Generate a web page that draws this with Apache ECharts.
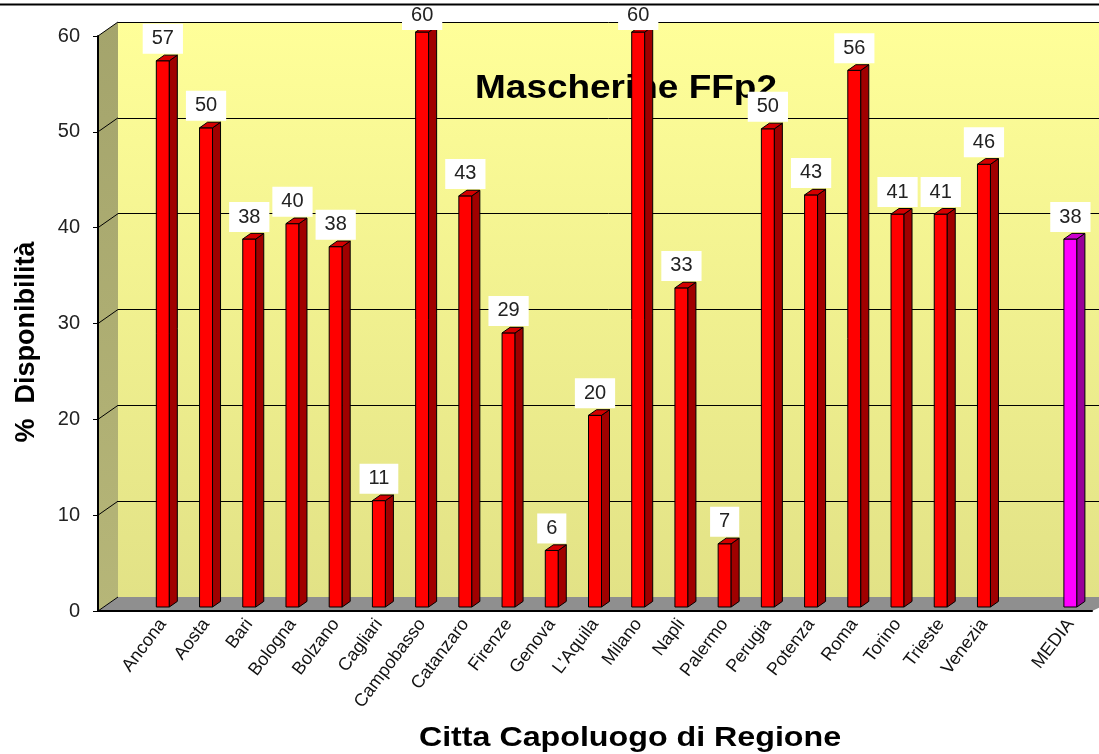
<!DOCTYPE html>
<html>
<head>
<meta charset="utf-8">
<script src="https://cdn.jsdelivr.net/npm/echarts@6/dist/echarts.min.js"></script>
<style>
  html, body { margin: 0; padding: 0; background: #fff; }
  #chart { width: 1099px; height: 754px; }
</style>
</head>
<body>
<div id="chart"></div>
<script>
// Mascherine FFp2 - disponibilità per città capoluogo
const categories = ['', 'Ancona', 'Aosta', 'Bari', 'Bologna', 'Bolzano', 'Cagliari', 'Campobasso', 'Catanzaro',
  'Firenze', 'Genova', "L'Aquila", 'Milano', 'Napli', 'Palermo', 'Perugia', 'Potenza', 'Roma', 'Torino',
  'Trieste', 'Venezia', '', 'MEDIA'];
const cityValues = [57, 50, 38.4, 40, 37.6, 11.1, 60, 42.9, 28.6, 5.9, 20, 60, 33.3, 6.6, 49.9, 43, 56, 41, 41, 46.2];
const mediaValue = 38.4;
const yTicks = [0, 10, 20, 30, 40, 50, 60];

const FONT = '"Liberation Sans", Arial, sans-serif';
const DX = 20, DY = 14; // profondità pareti

function bar3d(front, side, top) {
  return function (params, api) {
    const idx = api.value(0);
    const val = api.value(1);
    const base = api.coord([idx, 0]);
    const head = api.coord([idx, val]);
    const w = 13, dx = 8, dy = 5.6, lift = 4;
    const x = base[0] - w / 2;
    const yb = base[1] - lift;
    const yt = head[1] - lift;
    const line = { stroke: '#000', lineWidth: 1 };
    // etichetta tenuta dentro l'area del grafico, come in Excel
    const labelBottom = Math.max(yt - 7, 30);
    return {
      type: 'group',
      children: [
        { type: 'rect', shape: { x: x, y: yt, width: w, height: yb - yt }, style: Object.assign({ fill: front }, line) },
        { type: 'polygon', shape: { points: [[x + w, yt], [x + w + dx, yt - dy], [x + w + dx, yb - dy], [x + w, yb]] },
          style: Object.assign({ fill: side }, line) },
        { type: 'polygon', shape: { points: [[x, yt], [x + dx, yt - dy], [x + w + dx, yt - dy], [x + w, yt]] },
          style: Object.assign({ fill: top }, line) },
        { type: 'text', z2: 10, style: {
            text: String(Math.round(val)), x: base[0], y: labelBottom,
            align: 'center', verticalAlign: 'bottom',
            fill: '#222', font: '20px ' + FONT,
            backgroundColor: '#fff', padding: [5, 9]
        } }
      ]
    };
  };
}

function renderWalls(params, api) {
  const cs = params.coordSys;
  const x0 = cs.x, x1 = cs.x + cs.width;
  const yTop = cs.y, yBot = cs.y + cs.height;
  const y = api.coord([0, api.value(0)])[1];
  const children = [];
  if (params.dataIndex === 0) {
    children.push({
      type: 'polygon',
      shape: { points: [[x0, yTop], [x0 + DX, yTop - DY], [x0 + DX, yBot - DY], [x0, yBot]] },
      style: { fill: new echarts.graphic.LinearGradient(0, 0, 0, 1, [
        { offset: 0, color: '#a4a46c' }, { offset: 1, color: '#b6b678' }]) }
    });
    children.push({
      type: 'polygon',
      shape: { points: [[x0, yBot], [x0 + DX, yBot - DY], [x1 + DX + 10, yBot - DY], [x1, yBot]] },
      style: { fill: '#8f8f8f' }
    });
  }
  children.push({
    type: 'line', z2: 5,
    shape: { x1: x0, y1: y, x2: x0 + DX, y2: y - DY },
    style: { stroke: '#000', lineWidth: 1 }
  });
  return { type: 'group', children: children };
}

const chart = echarts.init(document.getElementById('chart'));
const option = {
  animation: false,
  textStyle: { fontFamily: FONT },
  grid: [
    { left: 98, right: 7, top: 36, bottom: 143 },
    { left: 118, right: -30, top: 22, bottom: 157, show: true, borderWidth: 0,
      backgroundColor: new echarts.graphic.LinearGradient(0, 0, 0, 1, [
        { offset: 0, color: '#ffff99' }, { offset: 1, color: '#e2e286' }]) }
  ],
  xAxis: [
    {
      type: 'category', gridIndex: 0, data: categories, z: 4,
      axisLine: { lineStyle: { color: '#000', width: 2 } },
      axisTick: { interval: 0, length: 5, lineStyle: { color: '#000' } },
      axisLabel: { interval: 0, rotate: 53, fontSize: 18, color: '#111', margin: 10 }
    },
    { type: 'value', gridIndex: 1, min: 0, max: 1, show: false }
  ],
  yAxis: [
    {
      type: 'value', gridIndex: 0, min: 0, max: 60, interval: 10, z: 4,
      axisLine: { show: true, lineStyle: { color: '#000', width: 2 } },
      axisTick: { show: true, length: 5, lineStyle: { color: '#000' } },
      axisLabel: { fontSize: 20, color: '#222', margin: 18 },
      splitLine: { show: false }
    },
    {
      type: 'value', gridIndex: 1, min: 0, max: 60, interval: 10,
      axisLine: { show: false }, axisTick: { show: false }, axisLabel: { show: false },
      splitLine: { show: true, lineStyle: { color: '#000', width: 1 } }
    }
  ],
  graphic: [
    { type: 'text', x: 626, y: 89, z: 1, scaleX: 1.12,
      style: { text: 'Mascherine FFp2', font: 'bold 33px ' + FONT, fill: '#000',
        textAlign: 'center', textVerticalAlign: 'middle' } },
    { type: 'text', x: 630, y: 738, z: 1, scaleX: 1.15,
      style: { text: 'Citta Capoluogo di Regione', font: 'bold 28px ' + FONT, fill: '#000',
        textAlign: 'center', textVerticalAlign: 'middle' } },
    { type: 'text', x: 27, y: 342, z: 1, rotation: Math.PI / 2,
      style: { text: '%  Disponibilità', font: 'bold 27px ' + FONT, fill: '#000',
        textAlign: 'center', textVerticalAlign: 'middle' } },
    { type: 'line', z: 100, shape: { x1: 0, y1: 4.5, x2: 1099, y2: 4.5 },
      style: { stroke: '#000', lineWidth: 2 } }
  ],
  series: [
    {
      name: 'pareti', type: 'custom', xAxisIndex: 0, yAxisIndex: 0, z: 1, silent: true,
      renderItem: renderWalls, data: yTicks.map(function (v) { return [v]; })
    },
    {
      name: 'Città', type: 'custom', xAxisIndex: 0, yAxisIndex: 0, z: 3,
      renderItem: bar3d('#ff0000', '#a00000', '#d40000'),
      data: cityValues.map(function (v, i) { return [i + 1, v]; })
    },
    {
      name: 'MEDIA', type: 'custom', xAxisIndex: 0, yAxisIndex: 0, z: 3,
      renderItem: bar3d('#ff00ff', '#990099', '#cc00cc'),
      data: [[22, mediaValue]]
    }
  ]
};
chart.setOption(option, true);
</script>
</body>
</html>
